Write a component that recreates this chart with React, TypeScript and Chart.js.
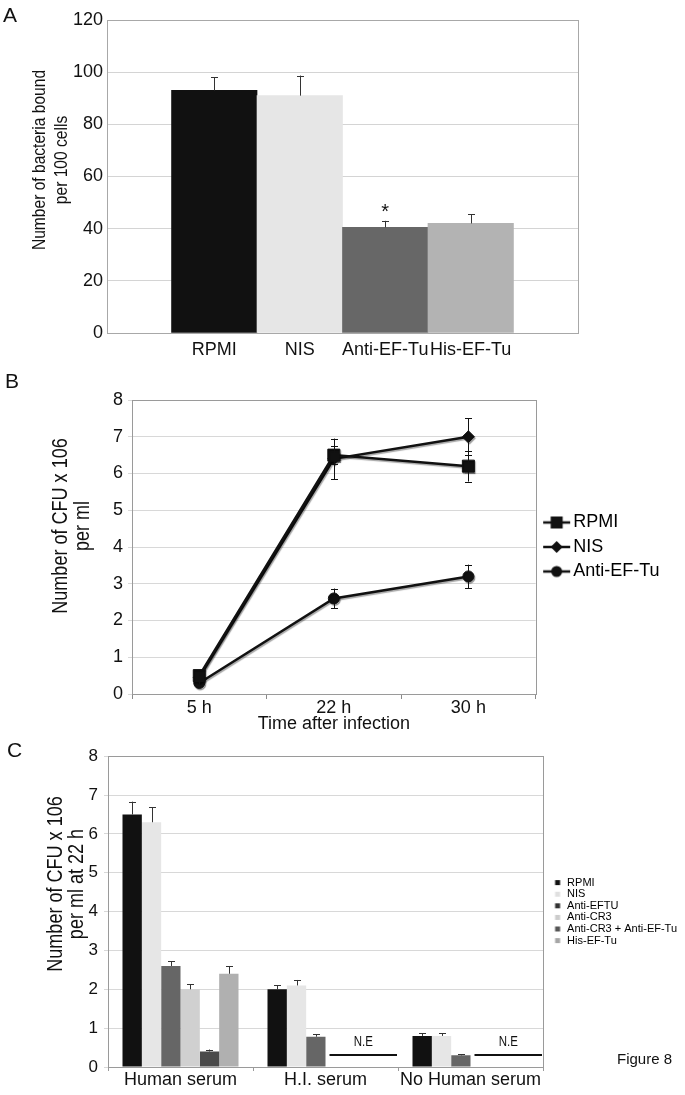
import React, { useEffect, useRef } from 'react';
import { Chart, registerables } from 'chart.js';

Chart.register(...registerables);

const FONT = "'Liberation Sans', Arial, Helvetica, sans-serif";

// ---------- Panel A ----------
const categoriesA = ['RPMI', 'NIS', 'Anti-EF-Tu', 'His-EF-Tu'];
const valuesA = [93, 91, 40.5, 42];
const errorsA = [5, 7.7, 2.5, 3.6];
const colorsA = ['#111111', '#e6e6e6', '#676767', '#b3b3b3'];
const significanceA = ['', '', '*', ''];
const yTitleA = ['Number of bacteria bound', 'per 100 cells'];

// ---------- Panel B ----------
const timepointsB = ['5 h', '22 h', '30 h'];
const seriesB = ['RPMI', 'NIS', 'Anti-EF-Tu'];
const rpmiB = [0.5, 6.5, 6.2];
const rpmiErrB = [0.05, 0.25, 0.42];
const nisB = [0.45, 6.4, 7.0];
const nisErrB = [0.05, 0.55, 0.5];
const antiB = [0.3, 2.6, 3.2];
const antiErrB = [0.05, 0.27, 0.32];
const markersB = ['rect', 'rectRot', 'circle'];
const yTitleB = ['Number of CFU x 106', 'per ml'];
const xTitleB = 'Time after infection';

// ---------- Panel C ----------
const groupsC = ['Human serum', 'H.I. serum', 'No Human serum'];
const seriesC = ['RPMI', 'NIS', 'Anti-EFTU', 'Anti-CR3', 'Anti-CR3 + Anti-EF-Tu', 'His-EF-Tu'];
const rpmiC = [6.5, 2.0, 0.8];
const rpmiErrC = [0.33, 0.1, 0.07];
const nisC = [6.3, 2.1, 0.8];
const nisErrC = [0.38, 0.14, 0.07];
const antiEftuC = [2.6, 0.78, 0.3];
const antiEftuErrC = [0.12, 0.06, 0.03];
const antiCr3C = [2.0, null, null];
const antiCr3ErrC = [0.13, null, null];
const comboC = [0.4, null, null];
const comboErrC = [0.05, null, null];
const hisC = [2.4, null, null];
const hisErrC = [0.2, null, null];
const colorsC = ['#111111', '#e6e6e6', '#666666', '#d0d0d0', '#4a4a4a', '#b0b0b0'];
const legendColorsC = ['#111111', '#e0e0e0', '#333333', '#cccccc', '#555555', '#a6a6a6'];
const notEvaluatedC = ['H.I. serum', 'No Human serum'];
const yTitleC = ['Number of CFU x 106', 'per ml at 22 h'];

Chart.defaults.color = '#111';
Chart.defaults.font.family = FONT;

// ---------- plugins ----------
function makeFrame(color: string) {
  return {
    id: 'frame',
    beforeDatasetsDraw(chart: any) {
      const { ctx, chartArea: a } = chart;
      ctx.save();
      ctx.strokeStyle = color;
      ctx.lineWidth = 1;
      ctx.strokeRect(Math.round(a.left) + 0.5, Math.round(a.top) + 0.5, Math.round(a.right - a.left), Math.round(a.bottom - a.top));
      ctx.restore();
    },
  };
}

function makeShadow() {
  return {
    id: 'lineShadow',
    beforeDatasetsDraw(chart: any) {
      const ctx = chart.ctx;
      ctx.save();
      ctx.shadowColor = 'rgba(0,0,0,0.35)';
      ctx.shadowOffsetX = 1;
      ctx.shadowOffsetY = 1.5;
      ctx.shadowBlur = 1;
    },
    afterDatasetsDraw(chart: any) {
      chart.ctx.restore();
    },
  };
}

function makeSideTitle(lines: string[], xs: number[], cy: number, size: number, squeeze: number) {
  return {
    id: 'sideTitle',
    afterDraw(chart: any) {
      const ctx = chart.ctx;
      ctx.save();
      ctx.fillStyle = '#111';
      ctx.font = `${size}px ${FONT}`;
      ctx.textAlign = 'center';
      ctx.textBaseline = 'middle';
      lines.forEach((t, i) => {
        ctx.save();
        ctx.translate(xs[i], cy);
        ctx.rotate(-Math.PI / 2);
        ctx.scale(squeeze, 1);
        ctx.fillText(t, 0, 0);
        ctx.restore();
      });
      ctx.restore();
    },
  };
}

function makeErrorBars(errs: (number | null)[][], both: boolean, color: string, cap: number) {
  return {
    id: 'errorBars',
    afterDatasetsDraw(chart: any) {
      const { ctx } = chart;
      const ys = chart.scales.y;
      ctx.save();
      ctx.strokeStyle = color;
      ctx.lineWidth = 1;
      chart.data.datasets.forEach((ds: any, di: number) => {
        const e = errs[di];
        if (!e) return;
        const meta = chart.getDatasetMeta(di);
        meta.data.forEach((el: any, i: number) => {
          const raw = ds.data[i];
          const v = raw !== null && typeof raw === 'object' ? raw.y : raw;
          const err = e[i];
          if (v == null || err == null) return;
          const x = Math.round(el.x) + 0.5;
          const yTop = ys.getPixelForValue(v + err);
          const yBot = both ? ys.getPixelForValue(v - err) : ys.getPixelForValue(v);
          ctx.beginPath();
          ctx.moveTo(x, yTop);
          ctx.lineTo(x, yBot);
          ctx.moveTo(x - cap, Math.round(yTop) + 0.5);
          ctx.lineTo(x + cap, Math.round(yTop) + 0.5);
          if (both) {
            ctx.moveTo(x - cap, Math.round(yBot) + 0.5);
            ctx.lineTo(x + cap, Math.round(yBot) + 0.5);
          }
          ctx.stroke();
        });
      });
      ctx.restore();
    },
  };
}

function makeSignificance(marks: string[], errs: number[]) {
  return {
    id: 'significance',
    afterDatasetsDraw(chart: any) {
      const { ctx } = chart;
      const ys = chart.scales.y;
      const meta = chart.getDatasetMeta(0);
      ctx.save();
      ctx.fillStyle = '#111';
      ctx.font = `20px ${FONT}`;
      ctx.textAlign = 'center';
      ctx.textBaseline = 'alphabetic';
      marks.forEach((m, i) => {
        if (!m) return;
        const el: any = meta.data[i];
        const v = (chart.data.datasets[0].data[i] as any).y;
        ctx.fillText(m, el.x, ys.getPixelForValue(v + errs[i]) - 3);
      });
      ctx.restore();
    },
  };
}

function makeNotEvaluated(groups: string[], labels: string[], nSeries: number, firstMissing: number, catPct: number, lineLevel: number, textLevel: number) {
  return {
    id: 'notEvaluated',
    afterDatasetsDraw(chart: any) {
      const { ctx } = chart;
      const xs = chart.scales.x;
      const ys = chart.scales.y;
      const catW = xs.width / labels.length;
      const barW = (catW * catPct) / nSeries;
      ctx.save();
      groups.forEach((g) => {
        const idx = labels.indexOf(g);
        const c = xs.getPixelForValue(idx);
        const x0 = c - (catW * catPct) / 2 + firstMissing * barW + 4;
        const x1 = c + catW / 2 - 1;
        const yl = Math.round(ys.getPixelForValue(lineLevel));
        ctx.strokeStyle = '#111';
        ctx.lineWidth = 1.8;
        ctx.beginPath();
        ctx.moveTo(x0, yl);
        ctx.lineTo(x1, yl);
        ctx.stroke();
        ctx.fillStyle = '#111';
        ctx.font = `14px ${FONT}`;
        ctx.textAlign = 'center';
        ctx.textBaseline = 'middle';
        ctx.save();
        ctx.translate((x0 + x1) / 2, ys.getPixelForValue(textLevel));
        ctx.scale(0.82, 1);
        ctx.fillText('N.E', 0, 0);
        ctx.restore();
      });
      ctx.restore();
    },
  };
}

function legendLineMarker(style: string): HTMLCanvasElement {
  const c = document.createElement('canvas');
  c.width = 36;
  c.height = 20;
  const g = c.getContext('2d')!;
  g.strokeStyle = '#111';
  g.fillStyle = '#111';
  g.lineWidth = 2.5;
  g.beginPath();
  g.moveTo(8, 10);
  g.lineTo(35, 10);
  g.stroke();
  g.beginPath();
  const cx = 21.5;
  if (style === 'rect') g.rect(cx - 6, 4, 12, 12);
  else if (style === 'rectRot') {
    g.moveTo(cx, 4);
    g.lineTo(cx + 6, 10);
    g.lineTo(cx, 16);
    g.lineTo(cx - 6, 10);
    g.closePath();
  } else g.arc(cx, 10, 5.5, 0, Math.PI * 2);
  g.fill();
  return c;
}

function legendSquare(color: string): HTMLCanvasElement {
  const c = document.createElement('canvas');
  c.width = 18;
  c.height = 11;
  const g = c.getContext('2d')!;
  g.fillStyle = color;
  g.fillRect(11.5, 3, 5, 5);
  return c;
}

const tickFont = { family: FONT, size: 18 };

export default function App() {
  const refA = useRef<HTMLCanvasElement>(null);
  const refB = useRef<HTMLCanvasElement>(null);
  const refC = useRef<HTMLCanvasElement>(null);

  useEffect(() => {
    const charts: Chart[] = [];

    // ----- A -----
    charts.push(
      new Chart(refA.current!, {
        type: 'bar',
        data: {
          datasets: [
            {
              data: valuesA.map((v, i) => ({ x: i + 1, y: v })),
              backgroundColor: colorsA,
              borderWidth: 0,
              barPercentage: 1,
              categoryPercentage: 1,
            } as any,
          ],
        },
        options: {
          responsive: false,
          animation: false,
          devicePixelRatio: 1,
          layout: { padding: { top: 20, right: 107, left: 0, bottom: 0 } },
          plugins: { legend: { display: false }, tooltip: { enabled: false } },
          scales: {
            x: {
              type: 'linear',
              offset: false,
              bounds: 'data',
              min: -0.255,
              max: 5.255,
              grid: { display: false, drawTicks: false },
              border: { display: false },
              afterBuildTicks: (s: any) => {
                s.ticks = categoriesA.map((_, i) => ({ value: i + 1 }));
              },
              ticks: {
                autoSkip: false,
                maxRotation: 0,
                padding: 6,
                font: tickFont,
                callback: (v: any) => categoriesA[Math.round(v) - 1] ?? '',
              },
              afterFit: (s: any) => {
                s.height = 37;
              },
            },
            y: {
              min: 0,
              max: 120,
              ticks: { stepSize: 20, padding: 4, font: tickFont },
              grid: { color: '#d4d4d4', drawTicks: false },
              border: { display: false },
              afterFit: (s: any) => {
                s.width = 107;
              },
            },
          },
        } as any,
        plugins: [
          makeFrame('#a8a8a8'),
          makeErrorBars([errorsA], false, '#333', 3.5),
          makeSignificance(significanceA, errorsA),
          makeSideTitle(yTitleA, [40, 62], 160, 19, 0.82),
        ],
      })
    );

    // ----- B -----
    const bData = [rpmiB, nisB, antiB];
    const bErr = [rpmiErrB, nisErrB, antiErrB];
    const radiiB = [8.5, 6, 5.5];
    const legendImgsB = markersB.map((m) => legendLineMarker(m));
    charts.push(
      new Chart(refB.current!, {
        type: 'line',
        data: {
          labels: timepointsB,
          datasets: seriesB.map((name, i) => ({
            label: name,
            data: bData[i],
            borderColor: '#111',
            backgroundColor: '#111',
            borderWidth: 2.5,
            pointStyle: markersB[i],
            pointRadius: radiiB[i],
            pointBackgroundColor: '#111',
            pointBorderColor: '#111',
            pointBorderWidth: 1,
            tension: 0,
          })) as any,
        },
        options: {
          responsive: false,
          animation: false,
          devicePixelRatio: 1,
          layout: { padding: { top: 30, right: 15.5, left: 0, bottom: 0 } },
          plugins: {
            tooltip: { enabled: false },
            legend: {
              display: true,
              position: 'right',
              align: 'center',
              fullSize: false,
              maxWidth: 150,
              labels: {
                usePointStyle: true,
                pointStyleWidth: 22,
                padding: 6.5,
                color: '#111',
                font: { family: FONT, size: 18 },
                generateLabels: () =>
                  seriesB.map((name, i) => ({
                    text: name,
                    pointStyle: legendImgsB[i],
                    fillStyle: '#111',
                    strokeStyle: '#111',
                    lineWidth: 0,
                    hidden: false,
                    datasetIndex: i,
                  })),
              },
            },
          },
          scales: {
            x: {
              type: 'category',
              offset: true,
              grid: { offset: true, drawOnChartArea: false, drawTicks: true, tickLength: 5, color: '#8a8a8a' },
              border: { display: false },
              ticks: { padding: -2, font: tickFont, maxRotation: 0 },
              title: { display: true, text: xTitleB, font: { family: FONT, size: 18 }, padding: { top: 0, bottom: 5 } },
              afterFit: (s: any) => {
                s.height = 46;
              },
            },
            y: {
              min: 0,
              max: 8,
              ticks: { stepSize: 1, padding: 5, font: tickFont },
              grid: { color: '#d8d8d8', tickLength: 4 },
              border: { display: false },
              afterFit: (s: any) => {
                s.width = 132;
              },
            },
          },
        } as any,
        plugins: [
          makeFrame('#9a9a9a'),
          makeShadow(),
          makeErrorBars(bErr, true, '#111', 3.5),
          makeSideTitle(yTitleB, [61, 83], 156, 22, 0.82),
        ],
      })
    );

    // ----- C -----
    const cData = [rpmiC, nisC, antiEftuC, antiCr3C, comboC, hisC];
    const cErr = [rpmiErrC, nisErrC, antiEftuErrC, antiCr3ErrC, comboErrC, hisErrC];
    const catPctC = 0.8;
    const legendImgsC = legendColorsC.map((c) => legendSquare(c));
    charts.push(
      new Chart(refC.current!, {
        type: 'bar',
        data: {
          labels: groupsC,
          datasets: seriesC.map((name, i) => ({
            label: name,
            data: cData[i],
            backgroundColor: colorsC[i],
            borderWidth: 0,
            barPercentage: 1,
            categoryPercentage: catPctC,
          })) as any,
        },
        options: {
          responsive: false,
          animation: false,
          devicePixelRatio: 1,
          layout: { padding: { top: 15, right: 0, left: 0, bottom: 0 } },
          plugins: {
            tooltip: { enabled: false },
            legend: {
              display: true,
              position: 'right',
              align: 'center',
              fullSize: false,
              maxWidth: 142,
              labels: {
                usePointStyle: true,
                pointStyleWidth: 18,
                padding: 0.6,
                color: '#111',
                font: { family: FONT, size: 11 },
                generateLabels: () =>
                  seriesC.map((name, i) => ({
                    text: name,
                    pointStyle: legendImgsC[i],
                    fillStyle: legendColorsC[i],
                    strokeStyle: legendColorsC[i],
                    lineWidth: 0,
                    hidden: false,
                    datasetIndex: i,
                  })),
              },
            },
          },
          scales: {
            x: {
              type: 'category',
              grid: { offset: true, drawOnChartArea: false, drawTicks: true, tickLength: 4, color: '#9a9a9a' },
              border: { display: false },
              ticks: { padding: -2, font: tickFont, maxRotation: 0 },
              afterFit: (s: any) => {
                s.height = 28;
              },
            },
            y: {
              min: 0,
              max: 8,
              ticks: { stepSize: 1, padding: 6, font: { family: FONT, size: 17 } },
              grid: { color: '#d8d8d8', tickLength: 4 },
              border: { display: false },
              afterFit: (s: any) => {
                s.width = 108;
              },
            },
          },
        } as any,
        plugins: [
          makeFrame('#9a9a9a'),
          makeErrorBars(cErr, false, '#333', 3.5),
          makeNotEvaluated(notEvaluatedC, groupsC, seriesC.length, 3, catPctC, 0.3, 0.64),
          makeSideTitle(yTitleC, [56, 77], 144, 22, 0.82),
        ],
      })
    );

    return () => charts.forEach((c) => c.destroy());
  }, []);

  const letter = (t: string, left: number, top: number, size: number) => (
    <div style={{ position: 'absolute', left, top, fontSize: size, lineHeight: `${size}px`, fontFamily: FONT, color: '#111' }}>{t}</div>
  );

  return (
    <div style={{ position: 'absolute', left: 0, top: 0, width: 685, height: 1095, background: '#fff', overflow: 'hidden' }}>
      <canvas ref={refA} width={685} height={370} style={{ position: 'absolute', left: 0, top: 0, width: 685, height: 370 }} />
      <canvas ref={refB} width={685} height={370} style={{ position: 'absolute', left: 0, top: 370, width: 685, height: 370 }} />
      <canvas ref={refC} width={685} height={355} style={{ position: 'absolute', left: 0, top: 740, width: 685, height: 355 }} />
      {letter('A', 3, 4, 21)}
      {letter('B', 5, 370, 21)}
      {letter('C', 7, 739, 21)}
      {letter('Figure 8', 617, 1051, 15)}
    </div>
  );
}
